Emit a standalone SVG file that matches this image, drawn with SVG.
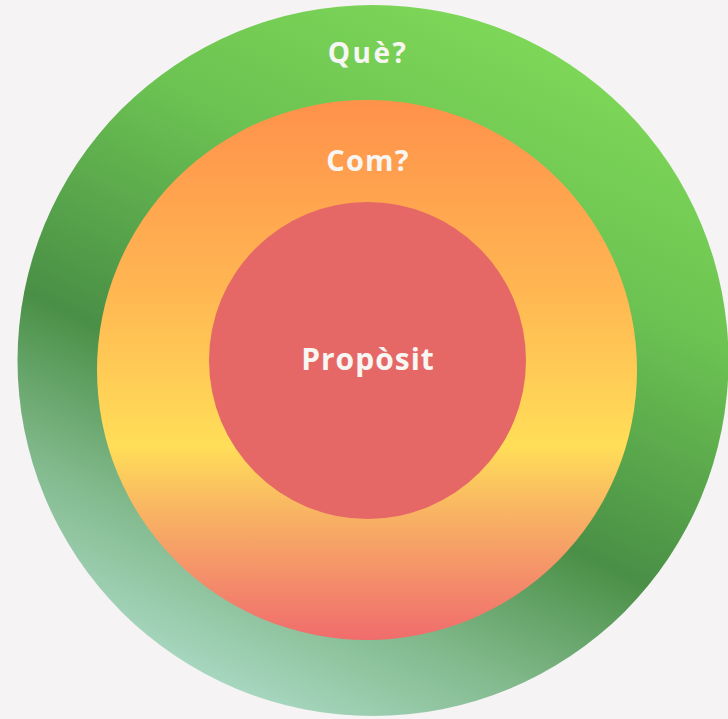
<svg xmlns="http://www.w3.org/2000/svg" width="728" height="719" viewBox="0 0 728 719">
<defs>
<linearGradient id="gOuter" gradientUnits="userSpaceOnUse" x1="560" y1="20" x2="240" y2="700">
<stop offset="0" stop-color="#80da58"/>
<stop offset="0.3" stop-color="#6cc352"/>
<stop offset="0.63" stop-color="#4a8f46"/>
<stop offset="0.82" stop-color="#80b88a"/>
<stop offset="1" stop-color="#a9d8c2"/>
</linearGradient>
<linearGradient id="gMid" gradientUnits="userSpaceOnUse" x1="0" y1="100" x2="0" y2="640">
<stop offset="0" stop-color="#ff914b"/>
<stop offset="0.35" stop-color="#ffb652"/>
<stop offset="0.64" stop-color="#ffde58"/>
<stop offset="0.75" stop-color="#f9b862"/>
<stop offset="0.88" stop-color="#f4906a"/>
<stop offset="1" stop-color="#f06c6c"/>
</linearGradient>
<style>
.lbl{font-family:"Open Sans","Lato","Liberation Sans",sans-serif;font-weight:700;fill:#f8f6f2;text-anchor:middle}
</style>
</defs>
<rect width="728" height="719" fill="#f5f3f4"/>
<g id="que">
<circle cx="373" cy="360.5" r="355.5" fill="url(#gOuter)"/>
<text class="lbl" x="368" y="63" font-size="28" letter-spacing="2.5">Què?</text>
</g>
<g id="com">
<circle cx="367" cy="370" r="270" fill="url(#gMid)"/>
<text class="lbl" x="368" y="171" font-size="29" letter-spacing="1.2">Com?</text>
</g>
<g id="proposit">
<circle cx="367.5" cy="360.5" r="158.5" fill="#e56867"/>
<text class="lbl" x="368" y="370" font-size="30" letter-spacing="1">Propòsit</text>
</g>
<g id="connectors"/>
</svg>
